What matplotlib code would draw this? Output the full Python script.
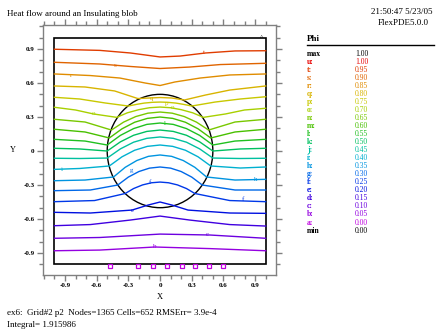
import matplotlib
matplotlib.use("Agg")
import matplotlib.pyplot as plt
from matplotlib.patches import Circle, Rectangle
from matplotlib.ticker import MultipleLocator, FixedLocator

plt.rcParams['font.family'] = ['Liberation Serif', 'DejaVu Serif']

# contour levels and colours (FlexPDE palette)
names = ['u', 't', 's', 'r', 'q', 'p', 'o', 'n', 'm', 'l', 'k',
         'j', 'i', 'h', 'g', 'f', 'e', 'd', 'c', 'b', 'a']
values = ['1.00', '0.95', '0.90', '0.85', '0.80', '0.75', '0.70', '0.65', '0.60', '0.55', '0.50',
          '0.45', '0.40', '0.35', '0.30', '0.25', '0.20', '0.15', '0.10', '0.05', '0.00']
colors = ['#e80000', '#e03c00', '#e06400', '#e08c00', '#d8b400', '#c8c800', '#a8d000',
          '#78c800', '#48c000', '#20c020', '#00c060', '#00c0a0', '#00b0d0', '#0094e0',
          '#0068e8', '#0038e8', '#0010e0', '#4000e0', '#6c00e0', '#9400e0', '#c000e0']

# contour polylines (x, y)
lines = {
    't': ([-1, -0.57, -0.28, 0, 0.19, 0.43, 0.71, 1],
          [0.898, 0.888, 0.865, 0.83, 0.838, 0.865, 0.883, 0.885]),
    's': ([-1, -0.57, -0.28, 0, 0.28, 0.57, 1],
          [0.783, 0.768, 0.746, 0.728, 0.741, 0.763, 0.774]),
    'r': ([-1, -0.66, -0.38, -0.14, 0, 0.14, 0.38, 0.66, 1],
          [0.68, 0.666, 0.644, 0.6, 0.578, 0.609, 0.644, 0.671, 0.68]),
    'q': ([-1, -0.71, -0.43, -0.21, -0.095, 0, 0.11, 0.23, 0.43, 0.66, 1],
          [0.574, 0.565, 0.53, 0.463, 0.468, 0.472, 0.468, 0.45, 0.494, 0.538, 0.574]),
    'p': ([-1, -0.76, -0.52, -0.30, -0.22, -0.15, -0.07, 0, 0.07, 0.15, 0.22, 0.30, 0.52, 0.76, 1],
          [0.474, 0.459, 0.424, 0.397, 0.412, 0.423, 0.43, 0.432, 0.43, 0.423, 0.412, 0.397, 0.432, 0.459, 0.479]),
    'o': ([-1, -0.8, -0.63, -0.41, -0.31, -0.2, -0.1, 0, 0.1, 0.2, 0.31, 0.41, 0.62, 0.8, 1],
          [0.386, 0.362, 0.327, 0.297, 0.337, 0.365, 0.382, 0.388, 0.382, 0.365, 0.337, 0.297, 0.327, 0.362, 0.377]),
    'n': ([-1, -0.71, -0.46, -0.345, -0.23, -0.115, 0, 0.115, 0.23, 0.345, 0.46, 0.71, 1],
          [0.28, 0.256, 0.185, 0.255, 0.304, 0.334, 0.344, 0.334, 0.304, 0.255, 0.185, 0.256, 0.28]),
    'm': ([-1, -0.71, -0.48, -0.36, -0.24, -0.12, 0, 0.12, 0.24, 0.36, 0.48, 0.71, 1],
          [0.192, 0.168, 0.115, 0.196, 0.254, 0.288, 0.3, 0.288, 0.254, 0.196, 0.115, 0.168, 0.192]),
    'l': ([-1, -0.71, -0.5, -0.375, -0.25, -0.125, 0, 0.125, 0.25, 0.375, 0.5, 0.71, 1],
          [0.103, 0.088, 0.053, 0.138, 0.198, 0.235, 0.247, 0.235, 0.198, 0.138, 0.053, 0.088, 0.103]),
    'k': ([-1, -0.76, -0.5, -0.375, -0.25, -0.125, 0, 0.125, 0.25, 0.375, 0.5, 0.76, 1],
          [0.024, 0.018, 0.0, 0.081, 0.139, 0.173, 0.185, 0.173, 0.139, 0.081, 0.0, 0.018, 0.024]),
    'j': ([-1, -0.76, -0.5, -0.375, -0.25, -0.125, 0, 0.125, 0.25, 0.375, 0.5, 0.76, 1],
          [-0.064, -0.066, -0.062, 0.019, 0.078, 0.112, 0.124, 0.112, 0.078, 0.019, -0.062, -0.066, -0.064]),
    'i': ([-1, -0.76, -0.48, -0.36, -0.24, -0.12, 0, 0.12, 0.24, 0.36, 0.48, 0.76, 1],
          [-0.162, -0.154, -0.132, -0.051, 0.007, 0.041, 0.053, 0.041, 0.007, -0.051, -0.132, -0.15, -0.141]),
    'h': ([-1, -0.71, -0.44, -0.33, -0.22, -0.11, 0, 0.11, 0.22, 0.33, 0.44, 0.71, 1],
          [-0.262, -0.256, -0.229, -0.144, -0.084, -0.047, -0.035, -0.047, -0.084, -0.144, -0.229, -0.256, -0.25]),
    'g': ([-1, -0.66, -0.4, -0.3, -0.2, -0.1, 0, 0.1, 0.2, 0.3, 0.4, 0.71, 1],
          [-0.35, -0.344, -0.3, -0.23, -0.181, -0.151, -0.141, -0.151, -0.181, -0.23, -0.3, -0.344, -0.344]),
    'f': ([-1, -0.62, -0.33, -0.25, -0.165, -0.08, 0, 0.08, 0.165, 0.25, 0.33, 0.66, 1],
          [-0.447, -0.437, -0.375, -0.331, -0.299, -0.28, -0.274, -0.28, -0.299, -0.331, -0.375, -0.437, -0.447]),
    'e': ([-1, -0.66, -0.265, -0.114, 0, 0.114, 0.265, 0.66, 1],
          [-0.541, -0.547, -0.521, -0.477, -0.45, -0.477, -0.521, -0.547, -0.55]),
    'd': ([-1, -0.66, -0.28, 0, 0.28, 0.66, 1],
          [-0.659, -0.649, -0.609, -0.574, -0.609, -0.649, -0.662]),
    'c': ([-1, -0.57, 0, 0.47, 1],
          [-0.77, -0.763, -0.733, -0.741, -0.77]),
    'b': ([-1, -0.57, -0.05, 0.47, 1],
          [-0.88, -0.874, -0.847, -0.861, -0.88]),
}

# letters placed on the lines
label_names = ['t', 's', 'r', 'q', 'p', 'o', 'o', 'l', 'i', 'g', 'h', 'f', 'f', 'e', 'c', 'b']
label_x = [0.42, -0.43, -0.84, -0.08, 0.06, -0.63, 0.12, 0.05, -0.93, -0.27, 0.91, -0.095, 0.79, -0.265, 0.445, -0.05]
label_y = [0.868, 0.755, 0.665, 0.46, 0.42, 0.327, 0.38, 0.247, -0.162, -0.17, -0.247, -0.28, -0.43, -0.521, -0.733, -0.845]

# 'a' marks along the bottom boundary
a_x = [-0.473, -0.208, -0.066, 0.066, 0.208, 0.331, 0.464, 0.597]
a_y = [-1.018] * len(a_x)

blob_r = 0.5

fig = plt.figure(figsize=(4.48, 3.36), dpi=100)
W, H = 448.0, 336.0


def ftext(px, py, s, **kw):
    fig.text(px / W, 1 - py / H, s, **kw)


ax = fig.add_axes([43 / W, 1 - 275 / H, 233 / W, 250 / H])
ax.set_xlim(-1.108, 1.098)
ax.set_ylim(-1.094, 1.112)

col = dict(zip(names, colors))
for nm, (xs, ys) in lines.items():
    ax.plot(xs, ys, color=col[nm], lw=1.0)

for nm, x, y in zip(label_names, label_x, label_y):
    ax.text(x, y, nm, color=col[nm], fontsize=5, ha='center', va='center')

ax.add_patch(Rectangle((-1, -1), 2, 2, fill=False, ec='black', lw=1.2))
ax.add_patch(Circle((0, 0), blob_r, fill=False, ec='black', lw=1.0))
ax.plot(a_x, a_y, 's', ms=2.6, mfc='none', mec=col['a'], mew=0.9, clip_on=False, zorder=5)
ax.text(0.96, 1.0, '^', fontsize=5, ha='center', va='center')

for sp in ax.spines.values():
    sp.set_color('#808080')
    sp.set_linewidth(1.0)
ticks = [-0.9, -0.6, -0.3, 0, 0.3, 0.6, 0.9]
tick_text = ['-0.9', '-0.6', '-0.3', '0', '0.3', '0.6', '0.9']
ax.xaxis.set_major_locator(FixedLocator(ticks))
ax.yaxis.set_major_locator(FixedLocator(ticks))
ax.xaxis.set_minor_locator(MultipleLocator(0.1))
ax.yaxis.set_minor_locator(MultipleLocator(0.1))
ax.set_xticklabels(tick_text)
ax.set_yticklabels(tick_text)
ax.tick_params(which='both', direction='out', color='#808080', width=1,
               top=True, right=True, labelsize=5, pad=2)
ax.tick_params(which='major', length=4)
ax.tick_params(which='minor', length=3)
for t in ax.get_xticklabels() + ax.get_yticklabels():
    t.set_fontweight('bold')

ftext(160, 297, 'X', fontsize=6, ha='center', va='center')
ftext(13, 150, 'Y', fontsize=6, ha='center', va='center')

ftext(7, 14, 'Heat flow around an Insulating blob', fontsize=6.5, va='center')
ftext(432, 12, '21:50:47 5/23/05', fontsize=6.5, ha='right', va='center')
ftext(429, 23, 'FlexPDE5.0.0', fontsize=6.5, ha='right', va='center')
ftext(7, 313, 'ex6:  Grid#2 p2  Nodes=1365 Cells=652 RMSErr= 3.9e-4', fontsize=6.5, va='center')
ftext(7, 325, 'Integral= 1.915986', fontsize=6.5, va='center')

# legend table
ftext(307, 39, 'Phi', fontsize=6.5, va='center', fontweight='bold')
fig.add_artist(plt.Line2D([307 / W, 434 / W], [1 - 45 / H, 1 - 45 / H], color='black', lw=1))
rows = ['max'] + [n + ':' for n in names] + ['min']
row_vals = ['1.00'] + values + ['0.00']
row_cols = ['black'] + colors + ['black']
for i, (r, v, c) in enumerate(zip(rows, row_vals, row_cols)):
    py = 53.5 + 8.05 * i
    ftext(307, py, r, fontsize=5.5, color=c, va='center', fontweight='bold')
    ftext(355, py, v, fontsize=5.5, color=c, va='center')

fig.savefig('out.png', dpi=100)
